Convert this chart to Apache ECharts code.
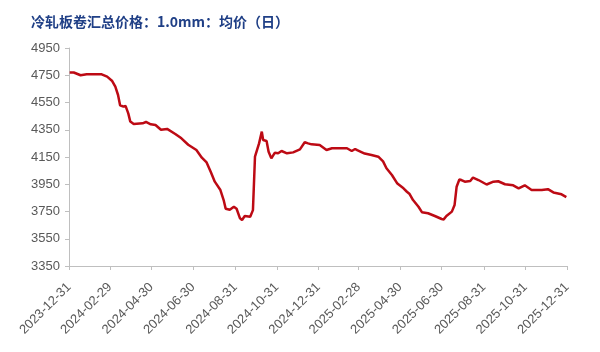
<!DOCTYPE html>
<html>
<head>
<meta charset="utf-8">
<script src="https://cdn.jsdelivr.net/npm/echarts@6/dist/echarts.min.js"></script>
<style>
  html, body { margin: 0; padding: 0; background: #fff; }
  #chart { width: 600px; height: 352px; }
</style>
</head>
<body>
<div id="chart"></div>
<script>
const titleText = '冷轧板卷汇总价格：1.0mm：均价（日）';

// x tick labels (every two months)
const tickDates = [
    '2023-12-31', '2024-02-29', '2024-04-30', '2024-06-30', '2024-08-31', '2024-10-31',
    '2024-12-31', '2025-02-28', '2025-04-30', '2025-06-30', '2025-08-31', '2025-10-31', '2025-12-31'
];

// price readings, yuan/t
const priceDates = [
    '2024-01-01', '2024-01-07', '2024-01-17', '2024-01-26', '2024-02-17', '2024-02-25',
    '2024-03-03', '2024-03-08', '2024-03-12', '2024-03-15', '2024-03-20', '2024-03-23',
    '2024-03-27', '2024-03-30', '2024-04-04', '2024-04-17', '2024-04-22', '2024-04-29',
    '2024-05-06', '2024-05-14', '2024-05-23', '2024-06-04', '2024-06-13', '2024-06-23',
    '2024-07-05', '2024-07-13', '2024-07-20', '2024-07-26', '2024-08-01', '2024-08-09',
    '2024-08-14', '2024-08-17', '2024-08-23', '2024-08-29', '2024-09-02', '2024-09-07',
    '2024-09-10', '2024-09-14', '2024-09-22', '2024-09-26', '2024-09-29', '2024-10-05',
    '2024-10-09', '2024-10-11', '2024-10-16', '2024-10-19', '2024-10-23', '2024-10-28',
    '2024-11-02', '2024-11-07', '2024-11-15', '2024-11-24', '2024-12-04', '2024-12-11',
    '2024-12-16', '2024-12-21', '2025-01-02', '2025-01-12', '2025-01-20', '2025-02-11',
    '2025-02-18', '2025-02-23', '2025-02-26', '2025-03-09', '2025-03-19', '2025-03-29',
    '2025-04-05', '2025-04-10', '2025-04-18', '2025-04-26', '2025-05-05', '2025-05-10',
    '2025-05-14', '2025-05-19', '2025-05-27', '2025-06-01', '2025-06-10', '2025-06-20',
    '2025-06-30', '2025-07-03', '2025-07-07', '2025-07-15', '2025-07-19', '2025-07-22',
    '2025-07-26', '2025-07-29', '2025-08-03', '2025-08-11', '2025-08-15', '2025-08-23',
    '2025-09-04', '2025-09-14', '2025-09-21', '2025-10-01', '2025-10-13', '2025-10-21',
    '2025-10-30', '2025-11-09', '2025-11-24', '2025-12-03', '2025-12-11', '2025-12-23',
    '2025-12-30'
];
const priceValues = [
    4770, 4770, 4750, 4757, 4757, 4740,
    4710, 4666, 4605, 4530, 4520, 4525,
    4470, 4410, 4392, 4397, 4407, 4390,
    4385, 4350, 4356, 4319, 4287, 4240,
    4201, 4145, 4110, 4042, 3969, 3910,
    3834, 3770, 3763, 3785, 3770, 3700,
    3688, 3717, 3712, 3760, 4152, 4250,
    4336, 4275, 4268, 4189, 4140, 4181,
    4177, 4194, 4177, 4184, 4206, 4258,
    4250, 4243, 4238, 4201, 4214, 4214,
    4194, 4209, 4200, 4175, 4165, 4152,
    4118, 4067, 4018, 3955, 3920, 3895,
    3878, 3834, 3785, 3745, 3737, 3717,
    3695, 3692, 3717, 3749, 3798, 3932,
    3985, 3981, 3969, 3974, 3999, 3981,
    3948, 3969, 3972, 3950, 3942, 3920,
    3942, 3908, 3908, 3914, 3890, 3876,
    3856
];

const yMin = 3350;
const yMax = 4950;
const yStep = 200;

// calendar days from first to last tick, so spacing follows time
const fmt = (d) => d.toISOString().slice(0, 10);
const days = [];
for (let d = new Date(tickDates[0] + 'T00:00:00Z'); fmt(d) <= tickDates[tickDates.length - 1]; d.setUTCDate(d.getUTCDate() + 1)) {
    days.push(fmt(d));
}

const axisColor = '#bfbfbf';
const labelColor = '#595959';
const isTick = (idx, val) => tickDates.indexOf(val) >= 0;

const chart = echarts.init(document.getElementById('chart'));
chart.setOption({
    animation: false,
    title: {
        text: titleText,
        left: 31,
        top: 15,
        padding: 0,
        textStyle: {
            fontFamily: 'Noto Sans CJK SC',
            fontSize: 14,
            fontWeight: 'bold',
            color: '#1f3f86'
        }
    },
    grid: {
        left: 69,
        right: 33,
        top: 48,
        bottom: 86
    },
    xAxis: {
        type: 'category',
        data: days,
        boundaryGap: false,
        axisLine: { lineStyle: { color: axisColor } },
        axisTick: {
            interval: isTick,
            length: 4,
            lineStyle: { color: axisColor }
        },
        axisLabel: {
            interval: isTick,
            rotate: 45,
            margin: 19,
            color: labelColor,
            fontFamily: 'Liberation Sans',
            fontSize: 13
        },
        splitLine: { show: false }
    },
    yAxis: {
        type: 'value',
        min: yMin,
        max: yMax,
        interval: yStep,
        axisLine: { show: true, lineStyle: { color: axisColor } },
        axisTick: { show: true, length: 4, lineStyle: { color: axisColor } },
        axisLabel: {
            margin: 9,
            color: labelColor,
            fontFamily: 'Liberation Sans',
            fontSize: 13,
            formatter: (v) => String(v)
        },
        splitLine: { show: false }
    },
    series: [
        {
            type: 'line',
            data: priceDates.map((d, i) => [d, priceValues[i]]),
            symbol: 'none',
            lineStyle: { color: '#bd0a14', width: 2.5 }
        }
    ]
});
</script>
</body>
</html>
